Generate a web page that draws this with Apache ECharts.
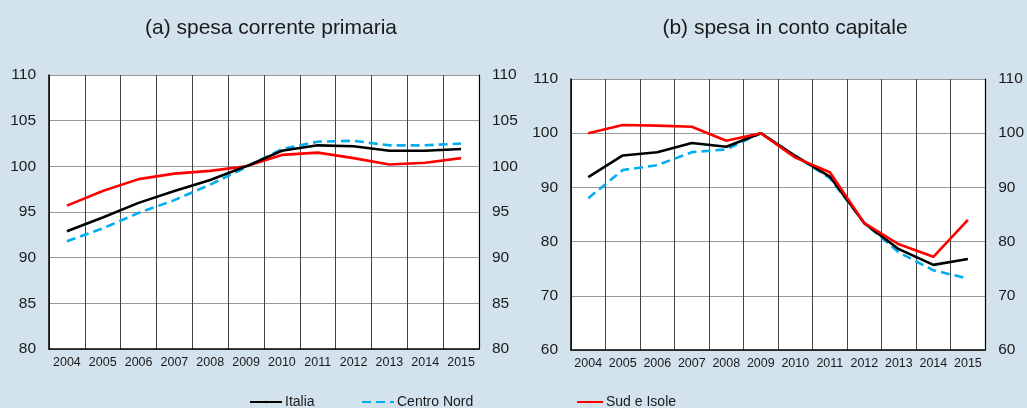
<!DOCTYPE html>
<html lang="it">
<head>
    <meta charset="utf-8">
    <title>Spesa primaria e in conto capitale</title>
    <script src="https://cdn.jsdelivr.net/npm/echarts@6.0.0/dist/echarts.min.js"></script>
    <style>
        html, body { margin: 0; padding: 0; background: #d3e3ed; }
        #chart { width: 1027px; height: 408px; }
    </style>
</head>
<body>
<div id="chart"></div>
<script>
    // anni sull'asse x
    var years = ['2004', '2005', '2006', '2007', '2008', '2009', '2010', '2011', '2012', '2013', '2014', '2015'];

    // (a) spesa corrente primaria
    var correnteItalia = [92.9, 94.4, 96.0, 97.3, 98.5, 100.0, 101.7, 102.3, 102.2, 101.7, 101.7, 101.9];
    var correnteCentroNord = [91.8, 93.2, 94.9, 96.3, 98.0, 99.9, 101.9, 102.7, 102.8, 102.3, 102.3, 102.5];
    var correnteSud = [95.7, 97.3, 98.6, 99.2, 99.5, 100.0, 101.25, 101.5, 100.9, 100.2, 100.4, 100.9];

    // (b) spesa in conto capitale
    var capitaleItalia = [91.9, 95.9, 96.5, 98.2, 97.5, 100.0, 95.8, 92.0, 83.4, 78.6, 75.7, 76.8];
    var capitaleCentroNord = [88.0, 93.2, 94.1, 96.5, 97.0, 100.0, 95.8, 91.7, 83.4, 78.0, 74.7, 73.2];
    var capitaleSud = [100.0, 101.5, 101.4, 101.2, 98.6, 100.0, 95.5, 92.8, 83.4, 79.5, 77.2, 84.0];

    var FONT = 'Liberation Sans, Arial, sans-serif';
    var TXT = '#1a1a1a';

    function xAxis(grid) {
        return {
            type: 'category', gridIndex: grid, data: years, boundaryGap: true,
            axisLine: {lineStyle: {color: '#000', width: 1.5}},
            axisTick: {show: false},
            axisLabel: {color: TXT, fontFamily: FONT, fontSize: 12.5, margin: 7, interval: 0},
            splitLine: {show: true, interval: 0, lineStyle: {color: '#444', width: 1}}
        };
    }

    function yAxis(grid, pos, min, max, step) {
        var left = pos === 'left';
        return {
            type: 'value', gridIndex: grid, position: pos, min: min, max: max, interval: step,
            axisLine: {show: true, lineStyle: {color: '#000', width: left ? 1.5 : 1.2}},
            axisTick: {show: false},
            axisLabel: {color: TXT, fontFamily: FONT, fontSize: 15.5, margin: 13},
            splitLine: {show: left, lineStyle: {color: '#999', width: 1}}
        };
    }

    function line(name, data, idx, color, dashed) {
        return {
            name: name, type: 'line', xAxisIndex: idx, yAxisIndex: idx * 2,
            data: data, symbol: 'none', silent: true,
            lineStyle: {color: color, width: 2.6, type: dashed ? [9, 5] : 'solid'},
            itemStyle: {color: color}
        };
    }

    function legend(left, name, w) {
        return {
            left: left, bottom: -6, itemWidth: w, itemHeight: 3, selectedMode: false, data: [name],
            textStyle: {color: TXT, fontFamily: FONT, fontSize: 14, padding: [0, 0, 0, -2]}
        };
    }

    var chart = echarts.init(document.getElementById('chart'));
    chart.setOption({
        backgroundColor: '#d3e3ed',
        animation: false,
        title: [
            {text: '(a) spesa corrente primaria', left: 266, top: 13, textAlign: 'center',
                textStyle: {color: TXT, fontFamily: FONT, fontSize: 21, fontWeight: 'normal'}},
            {text: '(b) spesa in conto capitale', left: 780, top: 13, textAlign: 'center',
                textStyle: {color: TXT, fontFamily: FONT, fontSize: 21, fontWeight: 'normal'}}
        ],
        legend: [
            legend(244, 'Italia', 32),
            legend(356, 'Centro Nord', 32),
            legend(571, 'Sud e Isole', 26)
        ],
        grid: [
            {left: 49, right: 548, top: 75, bottom: 59, show: true, backgroundColor: '#fff', borderWidth: 0},
            {left: 571, right: 41, top: 79, bottom: 58, show: true, backgroundColor: '#fff', borderWidth: 0}
        ],
        xAxis: [xAxis(0), xAxis(1)],
        yAxis: [
            yAxis(0, 'left', 80, 110, 5), yAxis(0, 'right', 80, 110, 5),
            yAxis(1, 'left', 60, 110, 10), yAxis(1, 'right', 60, 110, 10)
        ],
        series: [
            line('Centro Nord', correnteCentroNord, 0, '#00aeef', true),
            line('Sud e Isole', correnteSud, 0, '#ff0000', false),
            line('Italia', correnteItalia, 0, '#000000', false),
            line('Centro Nord', capitaleCentroNord, 1, '#00aeef', true),
            line('Italia', capitaleItalia, 1, '#000000', false),
            line('Sud e Isole', capitaleSud, 1, '#ff0000', false)
        ]
    });
</script>
</body>
</html>
